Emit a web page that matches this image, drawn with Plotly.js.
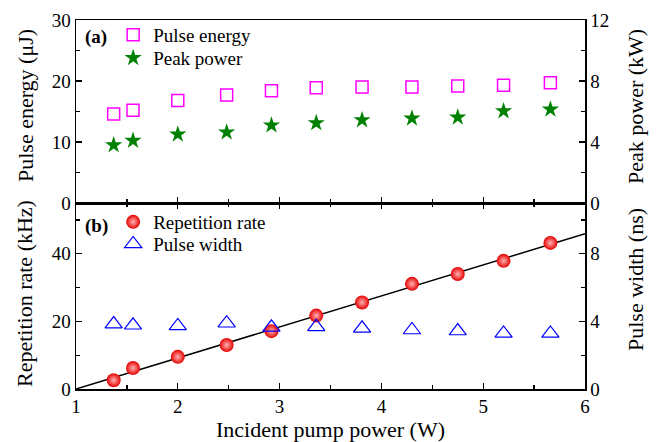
<!DOCTYPE html>
<html>
<head>
<meta charset="utf-8">
<script src="https://cdn.plot.ly/plotly-3.0.1.min.js"></script>
<style>html,body{margin:0;padding:0;background:#fff;}#chart{width:659px;height:442px;}</style>
</head>
<body>
<div id="chart"></div>
<script>
const xPump = [1.37, 1.56, 2.0, 2.48, 2.92, 3.36, 3.81, 4.30, 4.75, 5.20, 5.66];
const pulseEnergy = [14.6, 15.2, 16.8, 17.7, 18.4, 18.9, 19.0, 19.0, 19.2, 19.3, 19.7];
const peakPower = [3.80, 4.09, 4.50, 4.64, 5.10, 5.25, 5.44, 5.55, 5.62, 6.03, 6.14];
const repRate = [2.6, 6.2, 9.5, 13.0, 17.1, 21.7, 25.6, 31.1, 34.0, 37.9, 43.2];
const pulseWidth = [3.84, 3.77, 3.73, 3.89, 3.65, 3.68, 3.59, 3.49, 3.43, 3.29, 3.29];
const fitX = [1, 6];
const fitY = [0, 45.9];

const FONT = 'Liberation Serif, Times New Roman, serif';
const split = 0.504;

const traces = [
  {x: xPump, y: pulseEnergy, xaxis: 'x2', yaxis: 'y3', type: 'scatter', mode: 'markers',
   name: 'Pulse energy', legend: 'legend',
   marker: {symbol: 'square-open', size: 12, color: '#ff00ff', line: {width: 1.5, color: '#ff00ff'}}},
  {x: xPump, y: peakPower, xaxis: 'x2', yaxis: 'y4', type: 'scatter', mode: 'markers',
   name: 'Peak power', legend: 'legend2',
   marker: {symbol: 'star', size: 13, color: '#008000', line: {width: 0}}},
  {x: fitX, y: fitY, xaxis: 'x', yaxis: 'y', type: 'scatter', mode: 'lines',
   showlegend: false, line: {color: '#000', width: 1.5}},
  {x: xPump, y: repRate, xaxis: 'x', yaxis: 'y', type: 'scatter', mode: 'markers',
   name: 'Repetition rate', legend: 'legend3',
   marker: {symbol: 'circle', size: 14, color: '#e60000', gradient: {type: 'radial', color: '#ffb3b3'}, line: {width: 0}}},
  {x: xPump, y: pulseWidth, xaxis: 'x', yaxis: 'y2', type: 'scatter', mode: 'markers',
   name: 'Pulse width', legend: 'legend4',
   marker: {symbol: 'triangle-up-open', size: 15, color: '#0000ff', line: {width: 1.2, color: '#0000ff'}}}
];

const axBase = {
  showgrid: false, zeroline: false, showline: true, linecolor: '#000', linewidth: 1.5,
  ticks: 'inside', ticklen: 6, tickwidth: 1.2, tickcolor: '#000',
  tickfont: {family: FONT, size: 19, color: '#000'}
};
const minorBase = {ticks: 'inside', ticklen: 4, tickcolor: '#000', tickwidth: 1.2};
const titleFont = {family: FONT, size: 22, color: '#000'};
const legFont = {family: FONT, size: 19, color: '#000'};

function leg(y) {
  return {x: 0.073, y: y, xanchor: 'left', yanchor: 'top', bgcolor: 'rgba(0,0,0,0)', font: legFont};
}
function ytitle(text, x, y) {
  return {text: text, xref: 'paper', yref: 'paper', x: x, y: y, xanchor: 'center', yanchor: 'middle',
    textangle: -90, showarrow: false, font: titleFont};
}

const layout = {
  width: 659, height: 442,
  margin: {l: 76, r: 74, t: 20, b: 53},
  paper_bgcolor: '#fff', plot_bgcolor: '#fff',
  font: {family: FONT, color: '#000'},
  xaxis: Object.assign({}, axBase, {
    domain: [0, 1], anchor: 'y', range: [1, 6], dtick: 1, mirror: 'ticks',
    minor: Object.assign({dtick: 0.5}, minorBase),
    title: {text: 'Incident pump power (W)', font: titleFont, standoff: 2}
  }),
  xaxis2: Object.assign({}, axBase, {
    domain: [0, 1], anchor: 'y3', range: [1, 6], dtick: 1, mirror: true,
    showticklabels: false,
    minor: Object.assign({dtick: 0.5}, minorBase)
  }),
  yaxis: Object.assign({}, axBase, {
    domain: [0, split], anchor: 'x', range: [0, 55], tickvals: [0, 20, 40],
    minor: Object.assign({tickvals: [10, 30, 50]}, minorBase)
  }),
  yaxis2: Object.assign({}, axBase, {
    overlaying: 'y', side: 'right', anchor: 'x', range: [0, 11], tickvals: [0, 4, 8],
    minor: Object.assign({tickvals: [2, 6, 10]}, minorBase)
  }),
  yaxis3: Object.assign({}, axBase, {
    domain: [split, 1], anchor: 'x2', range: [0, 30], tickvals: [0, 10, 20, 30],
    minor: Object.assign({tickvals: [5, 15, 25]}, minorBase)
  }),
  yaxis4: Object.assign({}, axBase, {
    overlaying: 'y3', side: 'right', anchor: 'x2', range: [0, 12], tickvals: [0, 4, 8, 12],
    minor: Object.assign({tickvals: [2, 6, 10]}, minorBase)
  }),
  legend: leg(1.0108),
  legend2: leg(0.9485),
  legend3: leg(0.5041),
  legend4: leg(0.4444),
  annotations: [
    {text: '<b>(a)</b>', xref: 'paper', yref: 'paper', x: 0.0138, y: 0.9526, xanchor: 'left', yanchor: 'middle',
     showarrow: false, font: {family: FONT, size: 19, color: '#000'}},
    {text: '<b>(b)</b>', xref: 'paper', yref: 'paper', x: 0.0138, y: 0.443, xanchor: 'left', yanchor: 'middle',
     showarrow: false, font: {family: FONT, size: 19, color: '#000'}},
    ytitle('Pulse energy (μJ)', -0.1002, 0.7696),
    ytitle('Repetition rate (kHz)', -0.1002, 0.2602),
    ytitle('Peak power (kW)', 1.0982, 0.7669),
    ytitle('Pulse width (ns)', 1.0982, 0.2981)
  ],
  showlegend: true
};

Plotly.newPlot('chart', traces, layout, {displayModeBar: false, staticPlot: true});
</script>
</body>
</html>
